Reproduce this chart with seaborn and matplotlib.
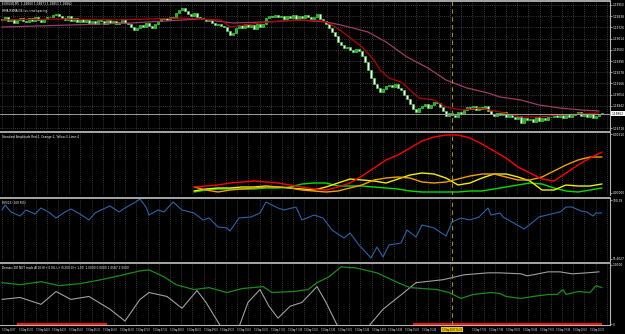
import numpy as np
import pandas as pd
import matplotlib
matplotlib.use("Agg")
import matplotlib.pyplot as plt
from matplotlib import font_manager
import seaborn as sns

# ---------------- data ----------------
CLOSE = [1.1980,1.1983,1.1979,1.1981,1.1977,1.1980,1.1982,1.1979,1.1978,1.1982,1.1979,1.1983,1.1980,1.1978,1.1981,1.1983,
         1.1983,1.1985,1.1986,1.1984,
         1.1982,1.1980,1.1984,1.1979,1.1982,1.1978,1.1981,
         1.1978,1.1980,1.1977,1.1979,1.1976,1.1980,
         1.1979,1.1976,1.1980,1.1977,1.1979,1.1976,1.1978,1.1981,1.1977,
         1.1976,1.1973,1.1970,1.1972,1.1975,
         1.1973,1.1977,1.1974,1.1972,1.1976,
         1.1979,1.1981,1.1982,1.1980,1.1983,1.1982,
         1.1987,1.1990,1.1992,1.1989,
         1.1986,1.1984,1.1987,1.1983,1.1982,
         1.1981,1.1979,1.1980,
         1.1977,1.1975,1.1976,1.1974,1.1973,
         1.1969,1.1965,1.1967,
         1.1972,1.1975,1.1972,1.1976,1.1973,1.1975,1.1971,1.1976,1.1973,1.1976,
         1.1982,1.1984,1.1983,1.1985,1.1983,
         1.1984,1.1981,1.1984,1.1982,1.1985,1.1981,1.1984,1.1982,1.1985,1.1983,1.1981,
         1.1983,1.1986,1.1981,1.1979,
         1.1976,1.1972,1.1968,
         1.1964,1.1958,
         1.1955,1.1952,
         1.1953,1.1950,1.1948,1.1951,1.1949,
         1.1944,1.1938,
         1.1930,1.1922,
         1.1916,1.1912,
         1.1908,1.1911,1.1914,
         1.1915,1.1913,1.1916,1.1912,
         1.1910,1.1905,1.1901,
         1.1896,1.1891,1.1888,1.1892,
         1.1894,1.1896,1.1892,1.1895,
         1.1898,1.1897,
         1.1893,1.1889,1.1884,1.1887,1.1885,
         1.1883,1.1888,1.1886,
         1.1890,1.1893,1.1891,1.1894,1.1890,1.1893,1.1891,1.1894,
         1.1889,1.1886,1.1884,1.1887,
         1.1885,1.1888,1.1883,1.1886,
         1.1883,1.1881,1.1884,1.1877,1.1882,1.1880,
         1.1881,1.1878,1.1883,1.1879,1.1882,1.1880,1.1883,
         1.1883,1.1886,1.1883,1.1885,1.1882,1.1886,1.1883,1.1885,
         1.1886,1.1888,1.1884,1.1887,1.1883,1.1887,
         1.1882,1.1884,
         1.1886,1.1887]
FIRST_OPEN = 1.1981
LAST_PRICE = 1.18862

FAST_MA_BAR = [0,19,39,59,73,76,86,89,99,107,110,114,117,120,124,126,129,133,136,139,144,148,153,159,166,173,179,186,193,199]
FAST_MA = [1.1980,1.1981,1.1980,1.1982,1.1980,1.1973,1.1977,1.1978,1.1980,1.1979,1.1975,1.1967,1.1960,1.1953,1.1940,1.1930,
           1.1922,1.1918,1.1910,1.1902,1.1900,1.1893,1.1890,1.1892,1.1888,1.1883,1.1883,1.1885,1.1886,1.1887]
SLOW_MA_BAR = [0,23,43,66,77,88,99,108,113,122,128,135,142,148,155,162,166,173,179,186,193,199]
SLOW_MA = [1.1973,1.1975,1.1977,1.1981,1.1977,1.1978,1.1980,1.1978,1.1975,1.1968,1.1958,1.1943,1.1932,1.1920,1.1912,1.1907,
           1.1903,1.1900,1.1895,1.1892,1.1890,1.1889]

MAIN_TICKS = [1.19950,1.19838,1.19726,1.19614,1.19502,1.19390,1.19278,1.19166,1.19054,1.18942,1.18718]

AMP_BAR = list(range(64, 201, 4))
AMP_RED = [8,9,10,12,13,14,13,12,10,8,6,5,8,12,19,27,35,40,47,54,58,60,60,57,51,44,37,28,22,16,14,22,30,37,43]
AMP_ORANGE = [8,5,3,5,6,7,8,8,7,5,4,3,4,7,10,15,17,18,17,13,12,13,16,19,21,21,18,15,15,18,24,30,35,38,38]
AMP_YELLOW = [4,6,7,7,8,8,9,8,7,6,5,8,12,16,15,14,12,16,20,22,21,17,10,12,17,21,21,18,14,5,5,10,9,9,11]
AMP_LIME = [3,5,6,6,6,6,7,7,8,11,12,12,9,9,9,8,7,6,4,3,3,3,3,4,4,6,8,10,12,11,7,4,3,5,7]

RSI_BAR = [0,1,3,6,8,11,13,16,18,21,23,26,29,31,33,36,39,41,44,46,48,49,52,54,57,60,64,67,69,72,75,76,79,83,86,88,92,94,98,
           100,104,107,110,114,116,119,123,125,127,129,133,135,138,140,144,148,150,153,156,159,162,163,166,167,170,174,177,
           179,183,186,188,190,193,195,197,198,200]
RSI = [81,86,79,75,81,77,83,78,73,79,82,77,71,78,81,85,79,83,88,92,84,76,81,79,89,81,78,71,73,64,63,60,73,74,78,89,83,81,84,
       71,76,73,61,53,58,46,33,44,34,46,48,61,54,66,63,55,69,73,71,74,83,76,78,74,69,62,69,74,77,79,84,84,80,79,75,78,78]

DEM_GREEN_BAR = [0,6,13,19,26,33,39,46,49,54,58,64,69,75,80,87,90,97,102,105,109,113,118,125,132,136,145,149,153,157,163,166,
                 168,173,177,182,185,187,188,192,196,198,200]
DEM_GREEN = [42,40,43,39,41,45,49,54,55,48,40,35,37,32,36,38,32,33,35,42,48,58,57,52,42,37,35,32,26,30,32,31,28,26,28,30,30,
             35,30,33,32,39,37]
DEM_GRAY_BAR = [0,6,13,18,23,29,36,41,46,49,55,60,65,68,73,79,82,86,89,92,96,100,105,108,112,122,127,134,138,147,154,162,166,
                173,175,177,182,186,190,195,199]
DEM_GRAY = [25,27,20,33,25,28,15,3,25,32,28,16,34,22,-3,-3,22,35,18,6,18,22,38,22,-3,-3,15,32,42,45,50,52,52,51,49,50,53,53,
            51,52,53]
DEM_RED_SEGMENTS = [(5, 35), (137, 200)]

CURSOR_BAR = 150
TIME_LABELS = ["13 Sep 2017", "13 Sep 03:30", "13 Sep 04:00", "13 Sep 04:30", "13 Sep 05:00", "13 Sep 05:30",
               "13 Sep 06:00", "13 Sep 06:30", "13 Sep 07:00", "13 Sep 07:30", "13 Sep 08:00", "13 Sep 08:30",
               "13 Sep 09:00", "13 Sep 09:30", "13 Sep 10:00", "13 Sep 10:30", "13 Sep 11:00", "13 Sep 11:30",
               "13 Sep 12:00", "13 Sep 12:30", "13 Sep 13:00", "13 Sep 13:30", "13 Sep 14:00", "13 Sep 14:30",
               "13 Sep 15:00", "13 Sep 15:30", "13 Sep 16:00", "13 Sep 16:30", "13 Sep 17:00", "13 Sep 17:30",
               "13 Sep 18:00", "13 Sep 18:30", "13 Sep 19:00", "13 Sep 19:30", "13 Sep 20:00", "13 Sep 20:30"]
CURSOR_LABEL = "13 Sep 2017 16:20"

# ---------------- style ----------------
sns.set_style("dark")
plt.rcParams["font.family"] = ["DejaVu Sans"]
_names = {f.name for f in font_manager.fontManager.ttflist}
NARROW = next((n for n in ["Liberation Sans Narrow", "DejaVu Sans Condensed", "Roboto Condensed", "Open Sans Condensed"]
               if n in _names), "DejaVu Sans")
BG = "#000000"
GRID = "#6a6a6a"
SEP = "#b4b4b4"
FS = 2.1
FST = 2.0 if NARROW != "DejaVu Sans" else 1.75

W, H = 625, 334
fig = plt.figure(figsize=(W / 100, H / 100), dpi=100, facecolor=BG)


def px_axes(top, bottom):
    return fig.add_axes([0, 1 - bottom / H, 610 / W, (bottom - top) / H], facecolor=BG)


ax1 = px_axes(1, 130)
ax2 = px_axes(132, 195)
ax3 = px_axes(198, 261)
ax4 = px_axes(263, 325)
axes = [ax1, ax2, ax3, ax4]

N = len(CLOSE)
bars = np.arange(N)
XL = (-2 / 3, 610 / 3 - 2 / 3)
BAR_PER_LABEL = 16.8 / 3
BAR_PER_GRID = 11.2 / 3

# ---- main candles ----
close = np.array(CLOSE)
opn = np.r_[FIRST_OPEN, close[:-1]]
lo = np.minimum(opn, close)
hgt = np.maximum(np.abs(close - opn), 0.00003)
up = close >= opn
ax1.bar(bars[up], hgt[up], bottom=lo[up], width=0.72, color="#18b818", edgecolor="#40ff40", linewidth=0.4)
ax1.bar(bars[~up], hgt[~up], bottom=lo[~up], width=0.72, color="#f0fff0", edgecolor="#50e050", linewidth=0.4)
sns.lineplot(x=SLOW_MA_BAR, y=SLOW_MA, ax=ax1, color="#9c3c68", lw=0.9)
sns.lineplot(x=FAST_MA_BAR, y=FAST_MA, ax=ax1, color="#b80000", lw=0.9)
ax1.axhline(LAST_PRICE, color="#9a9a9a", lw=0.7)
YB, YT = 1.2000 - 130 / 10000, 1.2000 - 1 / 10000
ax1.set_ylim(YB, YT)
ax1.set_yticks(MAIN_TICKS)
ax1.set_yticklabels([f"{v:.5f}" for v in MAIN_TICKS])
ax1.text(0.004, 0.99, "EURUSD,M5  1.18860 1.18871 1.18851 1.18862", transform=ax1.transAxes,
         color="white", fontsize=FS, va="top", ha="left")
ax1.text(0.004, 0.94, "HMA RSMA(34) vs. trnd spacing", transform=ax1.transAxes,
         color="white", fontsize=FS, va="top", ha="left")
ax1.text(1.003, (LAST_PRICE - YB) / (YT - YB), f"{LAST_PRICE:.5f}",
         transform=ax1.transAxes, fontsize=FS, color="black", va="center", ha="left",
         bbox=dict(boxstyle="square,pad=0.2", fc="white", ec="none"), clip_on=False)

# ---- amplitude panel ----
for vals, col in [(AMP_LIME, "#00e000"), (AMP_YELLOW, "#f0f000"), (AMP_ORANGE, "#f0a000"), (AMP_RED, "#ff0000")]:
    sns.lineplot(x=AMP_BAR, y=vals, ax=ax2, color=col, lw=1.0)
ax2.set_ylim(0, 63)
ax2.set_yticks([61, 2])
ax2.set_yticklabels(["0.00610", "0.00000"])
ax2.text(0.004, 0.95, "Standard Amplitude Red:1, Orange:2, Yellow:3, Lime:4", transform=ax2.transAxes,
         color="white", fontsize=FS, va="top", ha="left")

# ---- RSI panel ----
sns.lineplot(x=RSI_BAR, y=RSI, ax=ax3, color="#2a64a8", lw=0.8)
ax3.set_ylim(30, 93)
ax3.set_yticks([91, 32])
ax3.set_yticklabels(["100.19", "95.4027"])
ax3.text(0.004, 0.95, "RVI(25) 100 R(5)", transform=ax3.transAxes,
         color="white", fontsize=FS, va="top", ha="left")

# ---- Demarc panel ----
sns.lineplot(x=DEM_GRAY_BAR, y=DEM_GRAY, ax=ax4, color="#a0a0a0", lw=0.8)
sns.lineplot(x=DEM_GREEN_BAR, y=DEM_GREEN, ax=ax4, color="#1a8c1a", lw=0.9)
for a, b in DEM_RED_SEGMENTS:
    ax4.hlines(0, a, b, color="#ff1010", lw=1.4)
ax4.set_ylim(-1, 62)
ax4.set_yticks([60, 0])
ax4.set_yticklabels(["1.0000", "0"])
ax4.text(0.004, 0.95, "Demarc DO NOT trade A(10:8)+ 0.94, L+ 0(200:0)+ 1.00  1.0000 0.0000 1.0587 2.0000",
         transform=ax4.transAxes, color="white", fontsize=FS, va="top", ha="left")

# ---- common styling ----
for ax in axes:
    ax.set_xlim(*XL)
    ax.set_xlabel("")
    ax.set_ylabel("")
    ax.yaxis.tick_right()
    ax.tick_params(axis="y", colors="white", labelsize=FS, length=1.2, width=0.4, pad=0.8)
    ax.grid(True, axis="x", color=GRID, linestyle=(0, (1, 2)), lw=0.5)
    ax.set_xticks(np.arange(0, N + 4, BAR_PER_GRID))
    ax.tick_params(axis="x", length=0, labelbottom=False)
    ax.axvline(CURSOR_BAR, color="#a08a28", lw=0.8, linestyle=(0, (4, 3)))
    for s in ["left", "bottom"]:
        ax.spines[s].set_visible(False)
    ax.spines["top"].set_color(SEP)
    ax.spines["top"].set_linewidth(1.3)
    ax.spines["right"].set_color(SEP)
    ax.spines["right"].set_linewidth(0.8)
ax1.grid(True, axis="y", color=GRID, linestyle=(0, (1, 2)), lw=0.5)
ax4.spines["bottom"].set_visible(True)
ax4.spines["bottom"].set_color(SEP)
ax4.spines["bottom"].set_linewidth(0.8)

# time axis labels; the cursor box covers the labels underneath it
box_half = 12.5 / 3
for k, lab in enumerate(TIME_LABELS):
    b = k * BAR_PER_LABEL
    if b < CURSOR_BAR + box_half and b + 15 / 3 > CURSOR_BAR - box_half:
        continue
    ax4.text(b, -0.045, lab, transform=ax4.get_xaxis_transform(), fontsize=FST, color="#e8e8e8",
             family=NARROW, ha="left", va="top", clip_on=False)
ax4.text(CURSOR_BAR, -0.045, CURSOR_LABEL, transform=ax4.get_xaxis_transform(), fontsize=FST, color="black",
         family=NARROW, ha="center", va="top", clip_on=False,
         bbox=dict(boxstyle="square,pad=0.25", fc="#f0c800", ec="none"))

fig.savefig("out.png", dpi=100, facecolor=BG)
